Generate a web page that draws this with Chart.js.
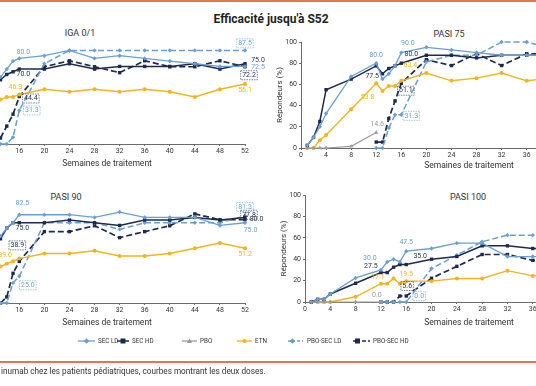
<!DOCTYPE html>
<html>
<head>
<meta charset="utf-8">
<script src="https://cdn.jsdelivr.net/npm/chart.js@4.4.1/dist/chart.umd.min.js"></script>
<style>
  html, body { margin: 0; padding: 0; background: #fff; }
  body { width: 536px; height: 386px; overflow: hidden; position: relative; font-family: Roboto, "Open Sans", sans-serif; color: #2b2b2b; }
  .rule { position: absolute; left: 0; width: 536px; height: 2px; background: #e2774a; }
  .panel { position: absolute; }
  .ptitle, .xtitle { position: absolute; transform: translate(-50%, -50%); white-space: nowrap; color: #333; }
  .ptitle { font-size: 9px; }
  .xtitle { font-size: 8.5px; }
  #title { position: absolute; left: 271px; top: 19px; transform: translate(-50%, -50%); font-size: 12px; font-weight: bold; color: #1f1f1f; white-space: nowrap; }
  #caption { position: absolute; left: 1px; top: 366px; font-size: 8.2px; color: #333; white-space: nowrap; }
</style>
</head>
<body>
<div class="rule" style="top:0"></div>
<div id="title">Efficacité jusqu'à S52</div>

<div class="ptitle" style="left:80px;top:33px">IGA 0/1</div>
<div class="ptitle" style="left:449px;top:34px">PASI 75</div>
<div class="ptitle" style="left:66px;top:197px">PASI 90</div>
<div class="ptitle" style="left:468px;top:197px">PASI 100</div>

<div class="panel" style="left:-107px;top:27px"><canvas id="iga" width="372" height="141"></canvas></div>
<div class="panel" style="left:275px;top:32px"><canvas id="pasi75" width="372" height="140"></canvas></div>
<div class="panel" style="left:-107px;top:186px"><canvas id="pasi90" width="372" height="141"></canvas></div>
<div class="panel" style="left:279px;top:185px"><canvas id="pasi100" width="375" height="141"></canvas></div>

<div class="xtitle" style="left:107px;top:163px">Semaines de traitement</div>
<div class="xtitle" style="left:469px;top:165px">Semaines de traitement</div>
<div class="xtitle" style="left:107px;top:322px">Semaines de traitement</div>
<div class="xtitle" style="left:469px;top:322px">Semaines de traitement</div>

<svg style="position:absolute;left:0;top:334px" width="536" height="14">
  <g font-size="6.3" fill="#333" font-family="Roboto, sans-serif">
    <line x1="78" y1="7" x2="95" y2="7" stroke="#6a9fd5" stroke-width="1.3"/>
    <rect x="84.5" y="5" width="4" height="4" fill="#6a9fd5" transform="rotate(45 86.5 7)"/>
    <text x="98" y="9.3">SEC LD</text>
    <line x1="117" y1="7" x2="129" y2="7" stroke="#1d2a4d" stroke-width="1.5"/>
    <rect x="120.5" y="4.5" width="5" height="5" fill="#1d2a4d"/>
    <text x="132" y="9.3">SEC HD</text>
    <line x1="182" y1="7" x2="197" y2="7" stroke="#9a9a9a" stroke-width="1.3"/>
    <polygon points="189.5,4.5 192,9 187,9" fill="#9a9a9a"/>
    <text x="200" y="9.3">PBO</text>
    <line x1="237" y1="7" x2="252" y2="7" stroke="#f3b41c" stroke-width="1.3"/>
    <circle cx="244.5" cy="7" r="2" fill="#f3b41c"/>
    <text x="255" y="9.3">ETN</text>
    <line x1="288" y1="7" x2="303" y2="7" stroke="#6a9fd5" stroke-width="1.3" stroke-dasharray="7,2,3,2"/>
    <rect x="290.5" y="5" width="4" height="4" fill="#6a9fd5" transform="rotate(45 292.5 7)"/>
    <text x="307" y="9.3">PBO-SEC LD</text>
    <line x1="353" y1="7" x2="370" y2="7" stroke="#1d2a4d" stroke-width="1.6" stroke-dasharray="7,2,4,2"/>
    <rect x="355" y="4.5" width="5" height="5" fill="#1d2a4d"/>
    <text x="373" y="9.3">PBO-SEC HD</text>
  </g>
</svg>
<div class="rule" style="top:361px"></div>
<div id="caption">inumab chez les patients pédiatriques, courbes montrant les deux doses.</div>

<script>
// ---- data (weeks of treatment, % responders) ----
const weeksEarly = [1, 2, 3, 4, 8, 12, 13, 14, 15, 16, 20, 24, 28, 32, 36, 40];
const weeksPbo = [1, 2, 3, 4, 8, 12];
const weeksSwitch = [12, 13, 14, 15, 16, 20, 24, 28, 32, 36, 40];
const weeksLate = [13, 14, 15, 16, 20, 24, 28, 32, 36, 40, 44, 48, 52];

// IGA 0/1
const igaSecLd = [62.5, 70, 77.5, 80, 82.5, 87.5, 80, 82.5, 80, 77.5, 75, 72.5, 72.5];
const igaSecHd = [60, 65, 67.5, 70, 70, 75, 70, 72.5, 72.5, 72.5, 75, 70, 75];
const igaEtn = [41.5, 43.9, 43.9, 46.3, 51.2, 48.8, 51.2, 48.8, 51.2, 48.8, 43.9, 51.2, 56.1];
const igaPboSecHd = [5.6, 16.7, 27.8, 44.4, 72.2, 77.8, 72.2, 66.7, 77.8, 72.2, 72.2, 77.8, 72.2];
const igaPboSecLd = [0, 0, 6.3, 31.3, 75, 87.5, 87.5, 87.5, 87.5, 87.5, 87.5, 87.5, 87.5];

// PASI 75
const p75SecLd = [2.5, 10, 20, 32.5, 67.5, 80, 65, 70, 77.5, 90, 95, 92.5, 90, 87.5, 87.5, 87.5];
const p75SecHd = [2.5, 10, 25, 55, 65, 77.5, 70, 75, 77.5, 80, 87.5, 87.5, 85, 87.5, 87.5, 87.5];
const p75Etn = [0, 0, 7.3, 12.2, 36.6, 61, 53.8, 58.5, 58.5, 63.4, 70.7, 63.4, 65.9, 70.7, 63.4, 65.9];
const p75Pbo = [0, 0, 0, 0, 1.6, 14.6];
const p75PboSecHd = [5.6, 5.6, 27.8, 44.4, 61.1, 83.3, 77.8, 88.9, 77.8, 88.9, 88.9];
const p75PboSecLd = [0, 0, 18.8, 31.3, 31.3, 81.3, 87.5, 87.5, 100, 100, 93.8];

// PASI 90
const p90SecLd = [62.5, 70, 75, 82.5, 82.5, 82.5, 80, 85, 80, 80, 80, 72.5, 75];
const p90SecHd = [60, 70, 75, 75, 75, 77.5, 75, 72.5, 77.5, 77.5, 80, 77.5, 80];
const p90Etn = [34.1, 36.6, 39, 41.5, 46.3, 46.3, 48.8, 43.9, 43.9, 46.3, 51.2, 56.1, 51.2];
const p90PboSecHd = [0, 5.6, 27.8, 38.9, 66.7, 66.7, 72.2, 61.1, 66.7, 72.2, 83.3, 77.8, 77.8];
const p90PboSecLd = [0, 0, 18.8, 25, 75, 75, 75, 68.8, 75, 75, 75, 75, 81.3];

// PASI 100
const p100SecLd = [0, 2.5, 2.5, 7.5, 22.5, 30, 37.5, 40, 37.5, 47.5, 50, 55, 55, 42.5, 42.5, 42.5];
const p100SecHd = [0, 2.5, 2.5, 7.5, 17.5, 27.5, 27.5, 32.5, 35, 35, 40, 42.5, 52.5, 52.5, 50, 50];
const p100Etn = [0, 0, 0, 0, 4.9, 17.1, 17.1, 22, 17.1, 19.5, 19.5, 22, 22, 29.3, 24.4, 24.4];
const p100Pbo = [0, 0, 0, 0, 0, 0];
const p100PboSecHd = [0, 0, 0, 5.6, 5.6, 22.2, 33.3, 44.4, 44.4, 38.9, 38.9];
const p100PboSecLd = [0, 0, 0, 0, 0, 31.3, 43.8, 56.3, 62.5, 62.5, 62.5];

// value labels: [week, value, series, dx, dy, boxed]
const igaLabels = [
  [16, 80, "ld", 4, -6, false], [16, 70, "hd", 4, 5.5, false], [16, 46.3, "etn", -4, -7, false],
  [16, 44.4, "hd", 11.5, 2, true], [16, 31.3, "ld", 12.5, 0, true], [52, 87.5, "ld", 0, -7, true],
  [52, 75, "hd", 13, -4, false], [52, 72.5, "ld", 13, 0.5, false], [52, 72.2, "hd", 4, 8.5, true],
  [52, 56.1, "etn", 0, 6.5, false]
];
const p75Labels = [
  [12, 80, "ld", 0, -8, false], [12, 77.5, "hd", -4, 10, false], [13, 53.8, "etn", -15, 6, false],
  [16, 90, "ld", 6.5, -9.5, false], [16, 80, "hd", 10, -9, false], [16, 63.4, "etn", 9, -16, false],
  [16, 61.1, "hd", 4.5, 7.5, true], [16, 31.3, "ld", 10, 1, true], [12, 14.6, "pbo", 1, -8, false]
];
const p90Labels = [
  [16, 82.5, "ld", 3, -11, false], [16, 75, "hd", 3, 5, false], [16, 38.9, "hd", -2, -16, true],
  [15, 39, "etn", -8, -6, false], [16, 25, "ld", 8.5, 9, true], [52, 81.3, "ld", 0, -9, true],
  [52, 77.8, "hd", 4, -5, true], [52, 80, "hd", 11.5, 2, false], [52, 75, "ld", 5.5, 7, false],
  [52, 51.2, "etn", 0, 6, false]
];
const p100Labels = [
  [12, 30, "ld", -11, -12, false], [12, 27.5, "hd", -10, -6, false], [16, 47.5, "ld", 0, -9, false],
  [16, 35, "hd", 14, -8, false], [12, 17.1, "etn", -3, -6, false], [16, 19.5, "etn", 0, -7, false],
  [12, 0, "pbo", -4, -7, false], [16, 5.6, "hd", 1, -10, true], [16, 0, "ld", 13, -6, true]
];

const COLORS = { ld: "#6a9fd5", hd: "#1d2a4d", pbo: "#9a9a9a", etn: "#f3b41c" };
const FONT = "Roboto, 'Open Sans', sans-serif";

const STYLE = {
  ld: { borderColor: COLORS.ld, backgroundColor: COLORS.ld, pointStyle: "rectRot", pointRadius: 2.2, borderWidth: 1.3 },
  hd: { borderColor: COLORS.hd, backgroundColor: COLORS.hd, pointStyle: "rect", pointRadius: 2.4, borderWidth: 1.5 },
  pbo: { borderColor: COLORS.pbo, backgroundColor: COLORS.pbo, pointStyle: "triangle", pointRadius: 2.4, borderWidth: 1.2 },
  etn: { borderColor: COLORS.etn, backgroundColor: COLORS.etn, pointStyle: "circle", pointRadius: 2, borderWidth: 1.4 },
  pld: { borderColor: COLORS.ld, backgroundColor: COLORS.ld, pointStyle: "rectRot", pointRadius: 2.2, borderWidth: 1.5, borderDash: [6, 3] },
  phd: { borderColor: COLORS.hd, backgroundColor: COLORS.hd, pointStyle: "rect", pointRadius: 2.4, borderWidth: 1.7, borderDash: [6, 3] }
};

function series(label, weeks, vals, key) {
  return Object.assign({
    label: label,
    data: weeks.map((w, i) => ({ x: w, y: vals[i] })),
    tension: 0,
    clip: false,
    pointBorderWidth: 0
  }, STYLE[key]);
}

const labelsById = { iga: igaLabels, pasi75: p75Labels, pasi90: p90Labels, pasi100: p100Labels };

// draws the value annotations next to the points
const valueLabels = {
  id: "valueLabels",
  afterDatasetsDraw(chart) {
    const items = labelsById[chart.canvas.id] || [];
    const { ctx } = chart;
    const x = chart.scales.x, y = chart.scales.y;
    ctx.save();
    ctx.font = "7px " + FONT;
    ctx.textAlign = "center";
    ctx.textBaseline = "middle";
    items.forEach(([wk, val, key, dx, dy, boxed]) => {
      const px = x.getPixelForValue(wk) + dx;
      const py = y.getPixelForValue(val) + dy;
      const txt = val.toFixed(1);
      ctx.fillStyle = COLORS[key];
      if (boxed) {
        const w = ctx.measureText(txt).width + 3;
        ctx.strokeStyle = COLORS[key];
        ctx.lineWidth = 0.6;
        ctx.setLineDash([1.5, 1]);
        ctx.strokeRect(px - w / 2, py - 4.5, w, 9);
        ctx.setLineDash([]);
      }
      ctx.fillText(txt, px, py);
    });
    ctx.restore();
  }
};

function makeChart(id, datasets) {
  const axisColor = "#6b6b6b";
  return new Chart(document.getElementById(id), {
    type: "line",
    data: { datasets: datasets },
    plugins: [valueLabels],
    options: {
      responsive: false,
      animation: false,
      devicePixelRatio: 1,
      events: [],
      layout: { padding: { top: 10, right: 20, left: 0, bottom: 0 } },
      plugins: { legend: { display: false }, tooltip: { enabled: false } },
      scales: {
        x: {
          type: "linear", min: 0, max: 52,
          ticks: { stepSize: 4, autoSkip: false, maxRotation: 0, padding: 1, color: "#333", font: { size: 7, family: FONT } },
          grid: { display: true, drawOnChartArea: false, drawTicks: true, tickLength: 2, color: axisColor },
          border: { display: true, color: axisColor, width: 1 },
          afterFit: (s) => { s.height = 24; s.paddingLeft = 0; s.paddingRight = 0; }
        },
        y: {
          min: 0, max: 100,
          ticks: { stepSize: 20, padding: 2, color: "#333", font: { size: 7, family: FONT } },
          grid: { display: true, drawOnChartArea: false, drawTicks: true, tickLength: 2, color: axisColor },
          border: { display: true, color: axisColor, width: 1 },
          title: { display: true, text: "Répondeurs (%)", color: "#333", font: { size: 8, family: FONT }, padding: 0 },
          afterFit: (s) => { s.width = 26; s.paddingTop = 0; s.paddingBottom = 0; }
        }
      }
    }
  });
}

makeChart("iga", [
  series("SEC LD", weeksLate, igaSecLd, "ld"),
  series("SEC HD", weeksLate, igaSecHd, "hd"),
  series("ETN", weeksLate, igaEtn, "etn"),
  series("PBO-SEC LD", weeksLate, igaPboSecLd, "pld"),
  series("PBO-SEC HD", weeksLate, igaPboSecHd, "phd")
]);

makeChart("pasi75", [
  series("SEC LD", weeksEarly, p75SecLd, "ld"),
  series("SEC HD", weeksEarly, p75SecHd, "hd"),
  series("PBO", weeksPbo, p75Pbo, "pbo"),
  series("ETN", weeksEarly, p75Etn, "etn"),
  series("PBO-SEC LD", weeksSwitch, p75PboSecLd, "pld"),
  series("PBO-SEC HD", weeksSwitch, p75PboSecHd, "phd")
]);

makeChart("pasi90", [
  series("SEC LD", weeksLate, p90SecLd, "ld"),
  series("SEC HD", weeksLate, p90SecHd, "hd"),
  series("ETN", weeksLate, p90Etn, "etn"),
  series("PBO-SEC LD", weeksLate, p90PboSecLd, "pld"),
  series("PBO-SEC HD", weeksLate, p90PboSecHd, "phd")
]);

makeChart("pasi100", [
  series("SEC LD", weeksEarly, p100SecLd, "ld"),
  series("SEC HD", weeksEarly, p100SecHd, "hd"),
  series("PBO", weeksPbo, p100Pbo, "pbo"),
  series("ETN", weeksEarly, p100Etn, "etn"),
  series("PBO-SEC LD", weeksSwitch, p100PboSecLd, "pld"),
  series("PBO-SEC HD", weeksSwitch, p100PboSecHd, "phd")
]);
</script>
</body>
</html>
